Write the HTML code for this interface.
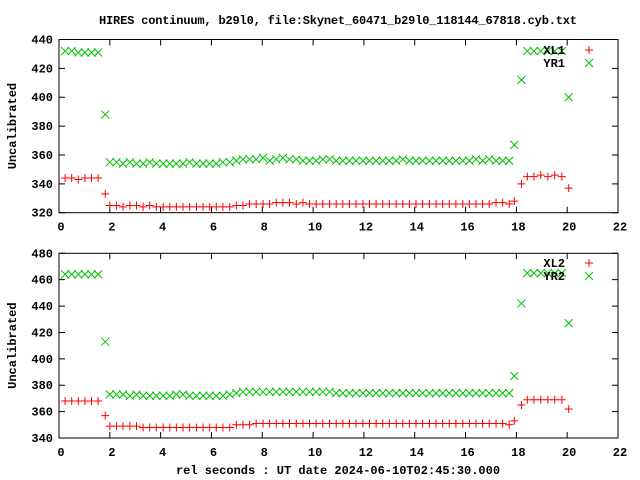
<!DOCTYPE html>
<html><head><meta charset="utf-8"><style>
html,body{margin:0;padding:0;background:#fff;}
svg{display:block;font-family:"Liberation Mono","DejaVu Sans Mono",monospace;font-weight:bold;font-size:12px;}
</style></head><body>
<svg id="chart" width="640" height="480" viewBox="0 0 640 480">
<text x="338" y="24" text-anchor="middle" textLength="478">HIRES continuum, b29l0, file:Skynet_60471_b29l0_118144_67818.cyb.txt</text>
<text x="338" y="474" text-anchor="middle">rel seconds : UT date 2024-06-10T02:45:30.000</text>
<g id="p1"></g><g id="p2"></g>
</svg>
<script>
const times=[0.24,0.50,0.76,1.02,1.28,1.54,1.82,
2.00,2.26,2.52,2.79,3.05,3.31,3.57,3.83,4.10,4.36,4.62,4.88,5.14,5.41,5.67,5.93,6.19,6.45,6.72,6.98,7.24,7.50,7.76,8.03,8.29,8.55,8.81,9.07,9.34,9.60,9.86,10.12,10.38,10.65,10.91,11.17,11.43,11.69,11.96,12.22,12.48,12.74,13.00,13.27,13.53,13.79,14.05,14.31,14.58,14.84,15.10,15.36,15.62,15.89,16.15,16.41,16.67,16.93,17.20,17.46,17.72,
17.92,18.20,18.43,18.69,18.96,19.24,19.51,19.79,20.06];
const xl1=[344,344,343,344,344,344,333,
325,325,324,325,325,324,325,324,324,324,324,324,324,324,324,324,324,324,324,325,325,326,326,326,326,327,327,327,326,327,326,326,326,326,326,326,326,326,326,326,326,326,326,326,326,326,326,326,326,326,326,326,326,326,326,326,326,326,327,327,326,
328,340,345,345,346,345,346,345,337];
const yr1=[432,432,431,431,431,431,388,
355,355,354,355,354,354,355,354,354,354,354,354,355,354,354,354,354,355,355,356,357,357,357,358,356,357,358,357,357,356,356,356,357,357,356,356,356,356,356,356,356,356,356,356,357,356,356,356,356,356,356,356,356,356,356,357,356,357,356,356,356,
367,412,432,432,432,432,432,432,400];
const xl2=[368,368,368,368,368,368,357,
349,349,349,349,349,348,348,348,348,348,348,348,348,348,348,348,348,348,348,350,350,350,351,351,351,351,351,351,351,351,351,351,351,351,351,351,351,351,351,351,351,351,351,351,351,351,351,351,351,351,351,351,351,351,351,351,351,351,351,351,350,
353,365,369,369,369,369,369,369,362];
const yr2=[464,464,464,464,464,464,413,
373,373,373,372,373,372,372,372,372,372,373,373,372,372,372,372,372,372,373,374,375,375,375,375,375,375,375,375,375,375,375,375,375,375,374,374,374,374,374,374,374,374,374,374,374,374,374,374,374,374,374,374,374,374,374,374,374,374,374,374,374,
387,442,465,465,465,465,465,465,427];
const xTicks=[0,2,4,6,8,10,12,14,16,18,20,22];
const yTicks1=[320,340,360,380,400,420,440];
const yTicks2=[340,360,380,400,420,440,460,480];
const NS="http://www.w3.org/2000/svg";
function mk(tag,attrs,parent){const e=document.createElementNS(NS,tag);for(const k in attrs)e.setAttribute(k,attrs[k]);parent.appendChild(e);return e;}
function panel(g,top,bot,ymin,ymax,yt,s1,s2,n1,n2,legY){
  const L=59,R=618;
  const X=v=>L+(v-0)/(22-0)*(R-L);
  const Y=v=>bot-(v-ymin)/(ymax-ymin)*(bot-top);
  const fr=mk('rect',{x:L,y:top,width:R-L,height:bot-top,fill:'none',stroke:'#000','stroke-width':1},g);
  
  
  xTicks.forEach(t=>{
    const x=X(t);
    mk('path',{d:`M${x},${bot}v-6M${x},${top}v6`,stroke:'#000'},g);
    const tx=mk('text',{x:x+2,y:bot+18,'text-anchor':'middle'},g);tx.textContent=t;
    
    
  });
  yt.forEach(t=>{
    const y=Y(t);
    mk('path',{d:`M${L},${y}h6M${R},${y}h-6`,stroke:'#000'},g);
    const tx=mk('text',{x:L-6,y:y+4,'text-anchor':'end'},g);tx.textContent=t;
    
    
  });
  const yl=mk('text',{x:16,y:(top+bot)/2,'text-anchor':'middle',transform:`rotate(-90 16 ${(top+bot)/2})`},g);
  yl.textContent='Uncalibrated';
  
  
  const plus=(x,y,p)=>mk('path',{d:`M${x-4},${y}h8M${x},${y-4}v8`,stroke:'#ff0000','stroke-width':1,fill:'none'},p);
  const cross=(x,y,p)=>mk('path',{d:`M${x-4},${y-4}l8,8M${x-4},${y+4}l8,-8`,stroke:'#00c000','stroke-width':1,fill:'none'},p);
  const g1=mk('g',{},g);
  
  
  const g2=mk('g',{},g);
  
  
  times.forEach((t,i)=>{
    const a=plus(X(t),Y(s1[i]),g1);
    
    
    const b=cross(X(t),Y(s2[i]),g2);
    
    
  });
  [[n1,plus,legY],[n2,cross,legY+13]].forEach(([nm,f,y])=>{
    const lg=mk('g',{},g);
    
    
    const tx=mk('text',{x:565,y:y+4,'text-anchor':'end'},lg);tx.textContent=nm;
    f(589,y,lg);
  });
}
panel(document.getElementById('p1'),39.5,212.7,320,440,yTicks1,xl1,yr1,'XL1','YR1',50);
panel(document.getElementById('p2'),253.3,438,340,480,yTicks2,xl2,yr2,'XL2','YR2',263);
</script>
</body></html>
